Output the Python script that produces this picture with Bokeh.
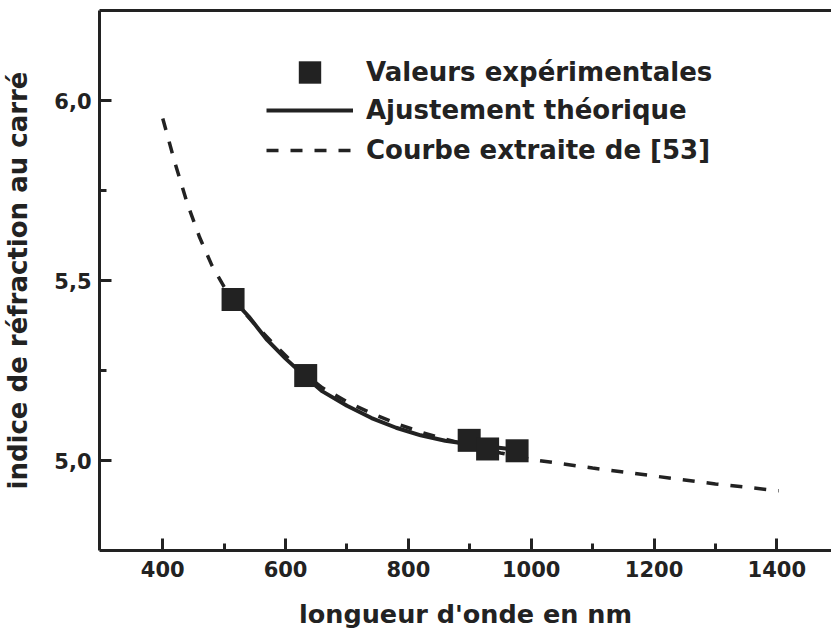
from bokeh.plotting import figure
from bokeh.models import Range1d, FixedTicker, LinearAxis, Legend, LegendItem
from bokeh.embed import file_html
from bokeh.resources import INLINE

# ---- data ----
exp_wavelength = [514.5, 632.8, 899, 929, 977]
exp_n2 = [5.447, 5.236, 5.056, 5.032, 5.027]

fit_wavelength = [514.5, 540, 570, 600, 632.8, 660, 700, 740, 780, 820, 860, 900, 940, 977]
fit_n2 = [5.447, 5.40, 5.335, 5.283, 5.232, 5.192, 5.152, 5.118, 5.091, 5.07, 5.055, 5.045, 5.037, 5.03]

ref_wavelength = [400, 420, 440, 460, 480, 500, 520, 550, 580, 610, 640, 660, 700, 740,
                  780, 820, 860, 900, 950, 1000, 1100, 1200, 1300, 1403]
ref_n2 = [5.95, 5.826, 5.714, 5.62, 5.542, 5.482, 5.435, 5.378, 5.325, 5.275, 5.228, 5.202,
          5.163, 5.131, 5.103, 5.079, 5.059, 5.042, 5.021, 5.003, 4.979, 4.957, 4.935, 4.916]

x_major = [400, 600, 800, 1000, 1200, 1400]
x_minor = [500, 700, 900, 1100, 1300]
y_major = [5.0, 5.5, 6.0]
y_minor = [5.25, 5.75]
y_labels = ["5,0", "5,5", "6,0"]

labels = ["Valeurs expérimentales", "Ajustement théorique", "Courbe extraite de [53]"]

INK = "#222222"
FONT = "DejaVu Sans"

p = figure(width=831, height=637, output_backend="svg", toolbar_location=None,
           x_range=Range1d(297, 1489), y_range=Range1d(4.75, 6.25),
           x_axis_location=None, y_axis_location=None,
           min_border_left=98, min_border_right=0, min_border_top=10, min_border_bottom=87)
p.xgrid.visible = False
p.ygrid.visible = False
p.outline_line_color = None
p.background_fill_color = "white"
p.border_fill_color = "white"

def style_axis(ax):
    ax.axis_line_color = INK
    ax.axis_line_width = 3
    ax.major_tick_line_color = INK
    ax.minor_tick_line_color = INK
    ax.major_tick_line_width = 3
    ax.minor_tick_line_width = 3
    ax.major_tick_in = 12
    ax.major_tick_out = 0
    ax.minor_tick_in = 7
    ax.minor_tick_out = 0
    ax.major_label_text_font = FONT
    ax.major_label_text_font_style = "bold"
    ax.major_label_text_font_size = "21px"
    ax.major_label_text_color = INK
    ax.axis_label_text_font = FONT
    ax.axis_label_text_font_style = "bold"
    ax.axis_label_text_color = INK

xaxis = LinearAxis(ticker=FixedTicker(ticks=x_major, minor_ticks=x_minor),
                   axis_label="longueur d'onde en nm")
style_axis(xaxis)
xaxis.axis_label_text_font_size = "25.5px"
xaxis.major_label_standoff = 10
xaxis.axis_label_standoff = 19
p.add_layout(xaxis, "below")

yaxis = LinearAxis(ticker=FixedTicker(ticks=y_major, minor_ticks=y_minor),
                   axis_label="indice de réfraction au carré")
style_axis(yaxis)
yaxis.axis_label_text_font_size = "26px"
yaxis.major_label_standoff = 8
yaxis.axis_label_standoff = 18
yaxis.major_label_overrides = {v: s for v, s in zip(y_major, y_labels)}
p.add_layout(yaxis, "left")

top = LinearAxis(ticker=FixedTicker(ticks=[], minor_ticks=[]))
top.axis_line_color = INK
top.axis_line_width = 3
top.major_tick_in = 0
top.major_tick_out = 0
top.minor_tick_in = 0
top.minor_tick_out = 0
top.major_label_standoff = 0
top.major_label_text_font_size = "0px"
p.add_layout(top, "above")

r_ref = p.line(ref_wavelength, ref_n2, line_color=INK, line_width=3.5, line_dash="12 12")
r_fit = p.line(fit_wavelength, fit_n2, line_color=INK, line_width=4)
r_exp = p.scatter(exp_wavelength, exp_n2, marker="square", size=23,
                  fill_color=INK, line_color=None)

common = dict(orientation="vertical", glyph_width=87, spacing=0, padding=0, margin=0,
              label_standoff=13, label_text_font=FONT, label_text_font_style="bold",
              label_text_font_size="26px", label_text_color=INK,
              border_line_color=None, background_fill_alpha=0)

legend_a = Legend(items=[LegendItem(label=labels[0], renderers=[r_exp])],
                  location=(167, 450), glyph_height=56, **common)
legend_b = Legend(items=[LegendItem(label=labels[1], renderers=[r_fit]),
                         LegendItem(label=labels[2], renderers=[r_ref])],
                  location=(167, 380), glyph_height=40, **common)
p.add_layout(legend_a, "center")
p.add_layout(legend_b, "center")

open("out.html", "w").write(file_html(p, INLINE))
